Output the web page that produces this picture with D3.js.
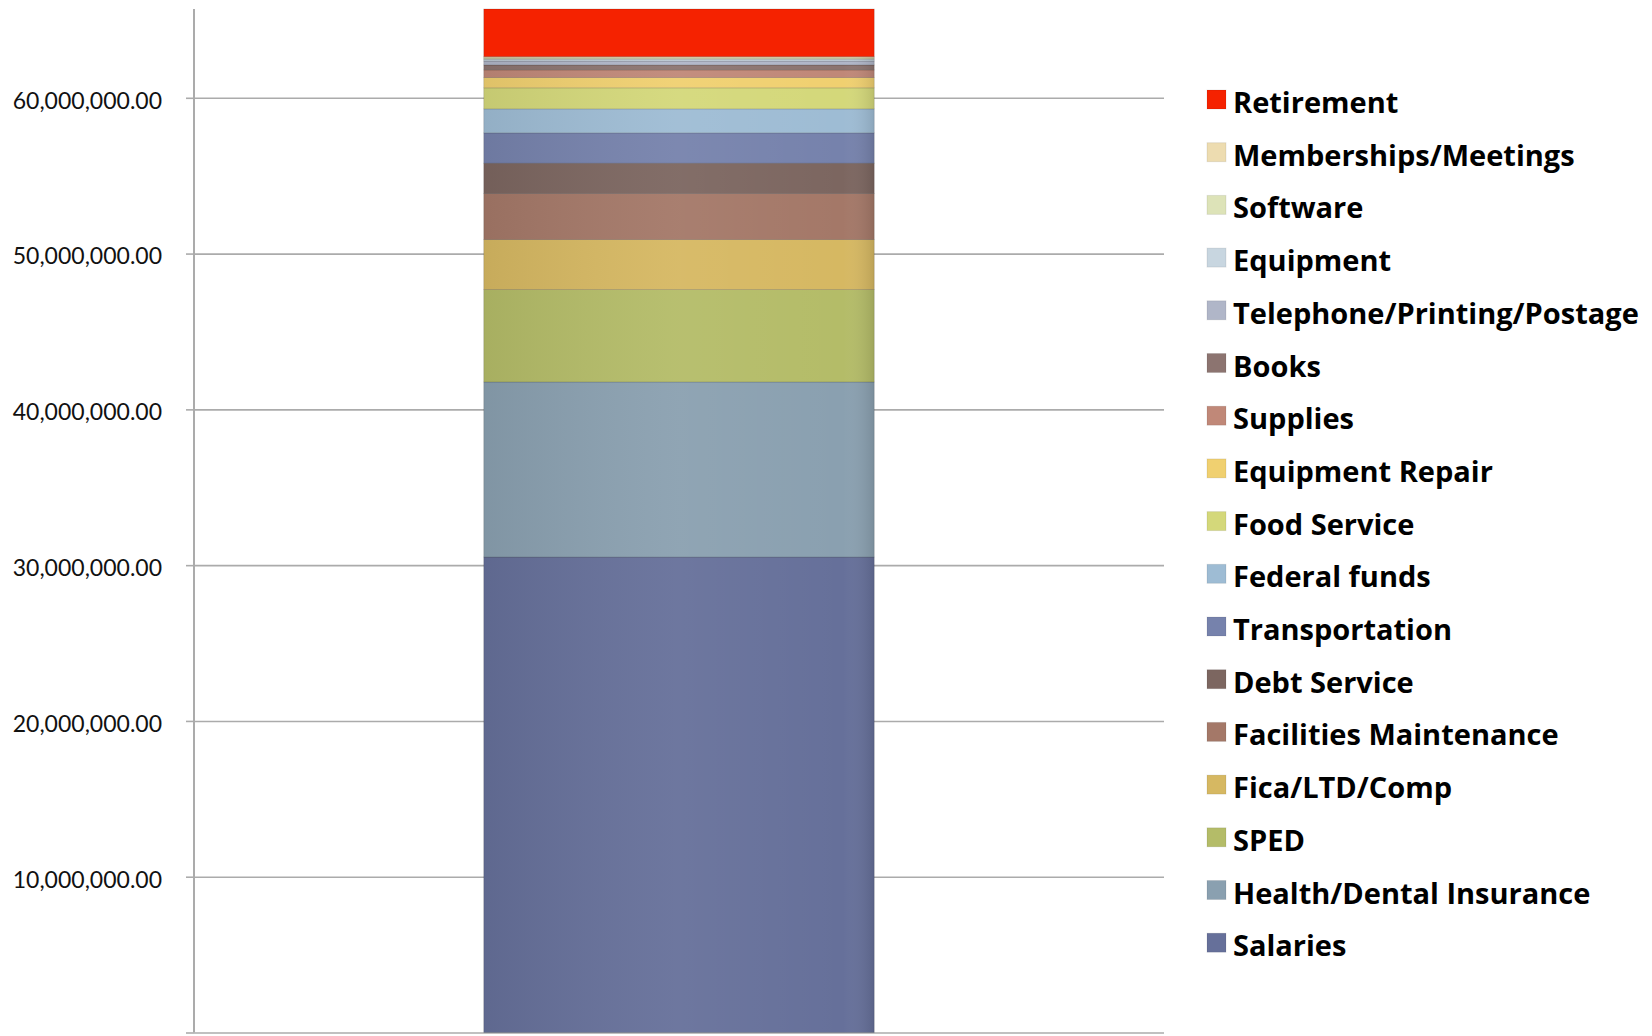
<!DOCTYPE html>
<html>
<head>
<meta charset="utf-8">
<script src="https://cdn.jsdelivr.net/npm/d3@7"></script>
<style>
  body { margin: 0; background: #fff; }
  .tick text { font-family: Lato, "Open Sans", sans-serif; }
</style>
</head>
<body>
<script>
// budget categories, bottom of the stack first
var categories = ["Salaries", "Health/Dental Insurance", "SPED", "Fica/LTD/Comp",
  "Facilities Maintenance", "Debt Service", "Transportation", "Federal funds",
  "Food Service", "Equipment Repair", "Supplies", "Books",
  "Telephone/Printing/Postage", "Equipment", "Software", "Memberships/Meetings", "Retirement"];

// amounts in dollars
var amounts = [30520000, 11240000, 5930000, 3210000,
  2950000, 1950000, 1950000, 1540000,
  1350000, 660000, 490000, 320000,
  250000, 120000, 80000, 80000, 3060000];

var colors = ["#66709a", "#8aa0b0", "#b4bc68", "#d6b862",
  "#a47868", "#7c6660", "#7682ac", "#9ebcd4",
  "#d4d87a", "#f0d070", "#c08878", "#8c7470",
  "#b0b6c8", "#c8d6e0", "#dde3b8", "#eddcb0", "#f52200"];

var yTicks = [0, 10000000, 20000000, 30000000, 40000000, 50000000, 60000000];

var width = 1652, height = 1036;
var margin = {left: 194, right: 488, top: 9, bottom: 3.5};

var svg = d3.select("body").append("svg")
    .attr("width", width)
    .attr("height", height);

// one table row for the stack
var row = {};
categories.forEach(function(c, i) { row[c] = amounts[i]; });
var series = d3.stack().keys(categories)([row]);
var total = d3.sum(amounts);

var x = d3.scaleBand().domain(["Budget"])
    .range([margin.left, width - margin.right])
    .padding(0.426);
var y = d3.scaleLinear().domain([0, total])
    .range([height - margin.bottom, margin.top]);

// gridlines
svg.append("g")
    .attr("transform", "translate(" + margin.left + ",0)")
    .call(d3.axisLeft(y).tickValues(yTicks)
        .tickSize(-(width - margin.right - margin.left))
        .tickFormat(""))
    .call(function(g) {
      g.select(".domain").remove();
      g.selectAll("line").attr("stroke", "#ababab").attr("stroke-width", 1.6);
    });

// gradient overlay for the bar's sheen
var defs = svg.append("defs");
var grad = defs.append("linearGradient").attr("id", "sheen")
    .attr("x1", "0%").attr("x2", "100%").attr("y1", "0%").attr("y2", "0%");
grad.append("stop").attr("offset", "0%").attr("stop-color", "#000").attr("stop-opacity", 0.07);
grad.append("stop").attr("offset", "50%").attr("stop-color", "#fff").attr("stop-opacity", 0.05);
grad.append("stop").attr("offset", "92%").attr("stop-color", "#fff").attr("stop-opacity", 0.0);
grad.append("stop").attr("offset", "100%").attr("stop-color", "#000").attr("stop-opacity", 0.12);

// stacked segments
svg.append("g").selectAll("rect")
  .data(series)
  .enter().append("rect")
    .attr("x", x("Budget"))
    .attr("width", x.bandwidth())
    .attr("y", function(d) { return y(d[0][1]); })
    .attr("height", function(d) { return y(d[0][0]) - y(d[0][1]); })
    .attr("fill", function(d, i) { return colors[i]; })
    .attr("stroke", "rgba(0,0,0,0.18)")
    .attr("stroke-width", 0.8);

svg.append("rect")
    .attr("x", x("Budget"))
    .attr("width", x.bandwidth())
    .attr("y", y(series[series.length - 1][0][0]))
    .attr("height", y(0) - y(series[series.length - 1][0][0]))
    .attr("fill", "url(#sheen)");

// y axis
var yAxis = svg.append("g")
    .attr("transform", "translate(" + margin.left + ",0)")
    .call(d3.axisLeft(y).tickValues(yTicks)
        .tickSize(8).tickPadding(24)
        .tickFormat(function(d) { return d === 0 ? "" : d3.format(",.2f")(d); }));
yAxis.select(".domain").attr("stroke", "#ababab").attr("stroke-width", 2)
    .attr("d", "M0," + y(total) + "V" + y(0));
yAxis.selectAll(".tick line").attr("stroke", "#ababab").attr("stroke-width", 1.6);
yAxis.selectAll(".tick text")
    .attr("font-size", 23)
    .attr("dy", "0.45em")
    .attr("fill", "#111");

// legend, top to bottom is the stack reversed
var legendItems = categories.map(function(c, i) { return {name: c, color: colors[i]}; }).reverse();
var legend = svg.append("g")
    .attr("transform", "translate(1207,113)");
var item = legend.selectAll("g")
  .data(legendItems)
  .enter().append("g")
    .attr("transform", function(d, i) { return "translate(0," + (i * 52.7) + ")"; });
item.append("rect")
    .attr("x", 0).attr("y", -23)
    .attr("width", 19).attr("height", 19)
    .attr("fill", function(d) { return d.color; })
    .attr("stroke", "rgba(0,0,0,0.08)");
item.append("text")
    .attr("x", 26)
    .attr("font-family", "'Open Sans', sans-serif")
    .attr("font-weight", 700)
    .attr("font-size", 29)
    .attr("fill", "#000")
    .text(function(d) { return d.name; });
</script>
</body>
</html>
